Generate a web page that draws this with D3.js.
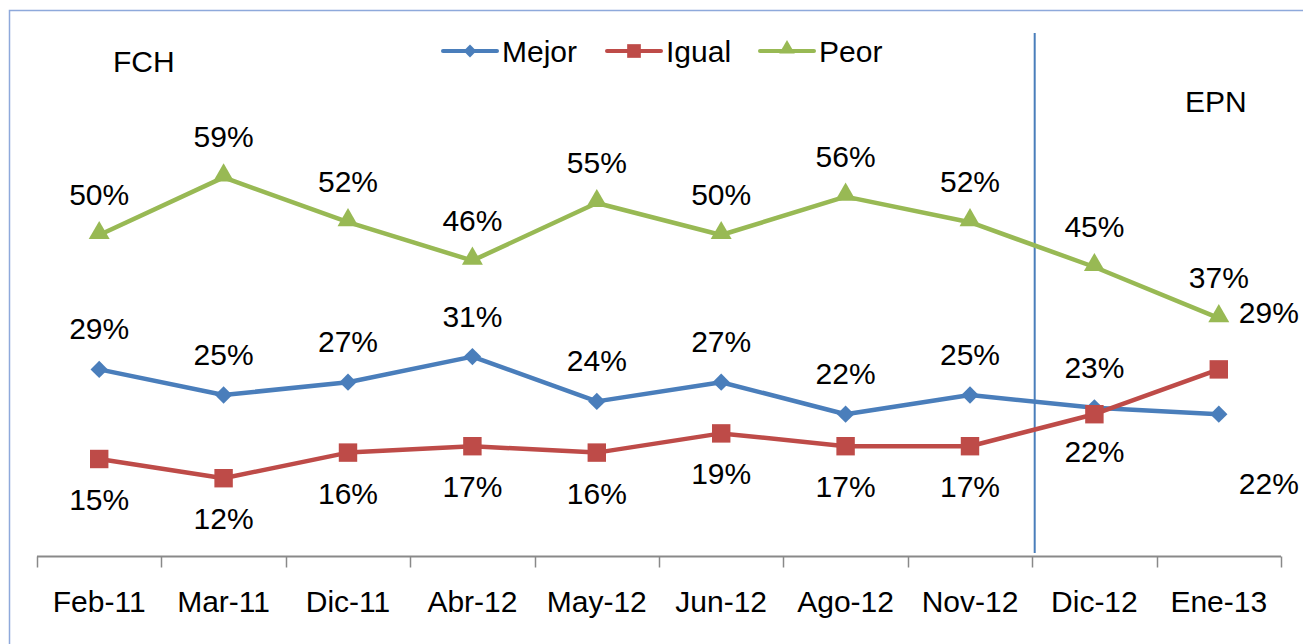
<!DOCTYPE html>
<html>
<head>
<meta charset="utf-8">
<script src="https://cdn.jsdelivr.net/npm/d3@7"></script>
<style>
  body { margin: 0; background: #fff; }
  text { font-family: "Liberation Sans", Arial, sans-serif; fill: #000; }
</style>
</head>
<body>
<script>
// data
var categories = ["Feb-11", "Mar-11", "Dic-11", "Abr-12", "May-12", "Jun-12", "Ago-12", "Nov-12", "Dic-12", "Ene-13"];
var mejor = [29, 25, 27, 31, 24, 27, 22, 25, 23, 22];
var igual = [15, 12, 16, 17, 16, 19, 17, 17, 22, 29];
var peor  = [50, 59, 52, 46, 55, 50, 56, 52, 45, 37];
var seriesNames = ["Mejor", "Igual", "Peor"];

var width = 1303, height = 644;
var svg = d3.select("body").append("svg")
  .attr("width", width)
  .attr("height", height);

// outer frame
svg.append("rect")
  .attr("x", 9.5).attr("y", 10.5)
  .attr("width", width).attr("height", height)
  .attr("fill", "none")
  .attr("stroke", "#8ea9db")
  .attr("stroke-width", 1.5);

var x = d3.scaleBand()
  .domain(categories)
  .range([37, 1281]);

var y = d3.scaleLinear()
  .domain([0, 80])
  .range([555, 43]);

var cx = function(d, i) { return x(categories[i]) + x.bandwidth() / 2; };

// diamond = square turned 45deg
var series = [
  {name: "Mejor", values: mejor, color: "#4a7ebb", shape: d3.symbolSquare, rot: 45, size: 150, labelDy: -30},
  {name: "Igual", values: igual, color: "#be4b48", shape: d3.symbolSquare, rot: 0, size: 340, labelDy: 51},
  {name: "Peor",  values: peor,  color: "#98b954", shape: d3.symbolTriangle, rot: 0, size: 190, labelDy: -30}
];

// labels that were moved by hand
var labelMoves = {
  "Igual-9": {dx: 50, dy: -46},
  "Mejor-9": {dx: 50, dy: 80},
  "Igual-8": {dx: 0, dy: 48}
};

// x axis
var axisY = 556.5;
svg.append("line")
  .attr("x1", x.range()[0]).attr("x2", x.range()[1])
  .attr("y1", axisY).attr("y2", axisY)
  .attr("stroke", "#898989").attr("stroke-width", 2);

var bounds = categories.map(function(c) { return x(c); }).concat([x.range()[1]]);
svg.selectAll(".tick-mark")
  .data(bounds)
  .enter().append("line")
  .attr("class", "tick-mark")
  .attr("x1", function(d) { return Math.round(d) + 0.5; })
  .attr("x2", function(d) { return Math.round(d) + 0.5; })
  .attr("y1", axisY).attr("y2", axisY + 11)
  .attr("stroke", "#898989").attr("stroke-width", 1.5);

svg.selectAll(".cat-label")
  .data(categories)
  .enter().append("text")
  .attr("class", "cat-label")
  .attr("x", function(d) { return x(d) + x.bandwidth() / 2; })
  .attr("y", 612)
  .attr("text-anchor", "middle")
  .attr("font-size", "30px")
  .text(function(d) { return d; });

// divider between presidencies
var divX = x("Dic-12") + 2.5;
svg.append("line")
  .attr("x1", divX).attr("x2", divX)
  .attr("y1", 33).attr("y2", 553)
  .attr("stroke", "#4a7ebb").attr("stroke-width", 2);

svg.append("text").attr("x", 113).attr("y", 72).attr("font-size", "30px").text("FCH");
svg.append("text").attr("x", 1185).attr("y", 112).attr("font-size", "30px").text("EPN");

var line = d3.line()
  .x(cx)
  .y(function(d) { return y(d); });

series.forEach(function(s) {
  var g = svg.append("g");
  g.append("path")
    .datum(s.values)
    .attr("d", line)
    .attr("fill", "none")
    .attr("stroke", s.color)
    .attr("stroke-width", 4.5)
    .attr("stroke-linejoin", "round");

  g.selectAll(".marker")
    .data(s.values)
    .enter().append("path")
    .attr("class", "marker")
    .attr("transform", function(d, i) {
      var dy = s.shape === d3.symbolTriangle ? -2 : 0;
      return "translate(" + cx(d, i) + "," + (y(d) + dy) + ") rotate(" + s.rot + ")";
    })
    .attr("d", d3.symbol().type(s.shape).size(s.size))
    .attr("fill", s.color);
});

// data labels (drawn after all lines so they sit on top)
series.forEach(function(s) {
  svg.selectAll(".lbl-" + s.name)
    .data(s.values)
    .enter().append("text")
    .attr("class", "lbl-" + s.name)
    .attr("x", function(d, i) {
      var m = labelMoves[s.name + "-" + i];
      return cx(d, i) + (m ? m.dx : 0);
    })
    .attr("y", function(d, i) {
      var m = labelMoves[s.name + "-" + i];
      return y(d) + (m ? m.dy : s.labelDy);
    })
    .attr("text-anchor", "middle")
    .attr("font-size", "30px")
    .text(function(d) { return d + "%"; });
});

// legend
var legendX = [443, 607, 760];
var legend = svg.append("g");
series.forEach(function(s, i) {
  var lx = legendX[i];
  legend.append("line")
    .attr("x1", lx).attr("x2", lx + 54)
    .attr("y1", 51).attr("y2", 51)
    .attr("stroke", s.color).attr("stroke-width", 4)
    .attr("stroke-linecap", "round");
  legend.append("path")
    .attr("transform", "translate(" + (lx + 27) + "," + (s.shape === d3.symbolTriangle ? 49 : 51) + ") rotate(" + s.rot + ")")
    .attr("d", d3.symbol().type(s.shape).size(s.size * 0.55))
    .attr("fill", s.color);
  legend.append("text")
    .attr("x", lx + 59).attr("y", 62)
    .attr("font-size", "30px")
    .text(seriesNames[i]);
});
</script>
</body>
</html>
